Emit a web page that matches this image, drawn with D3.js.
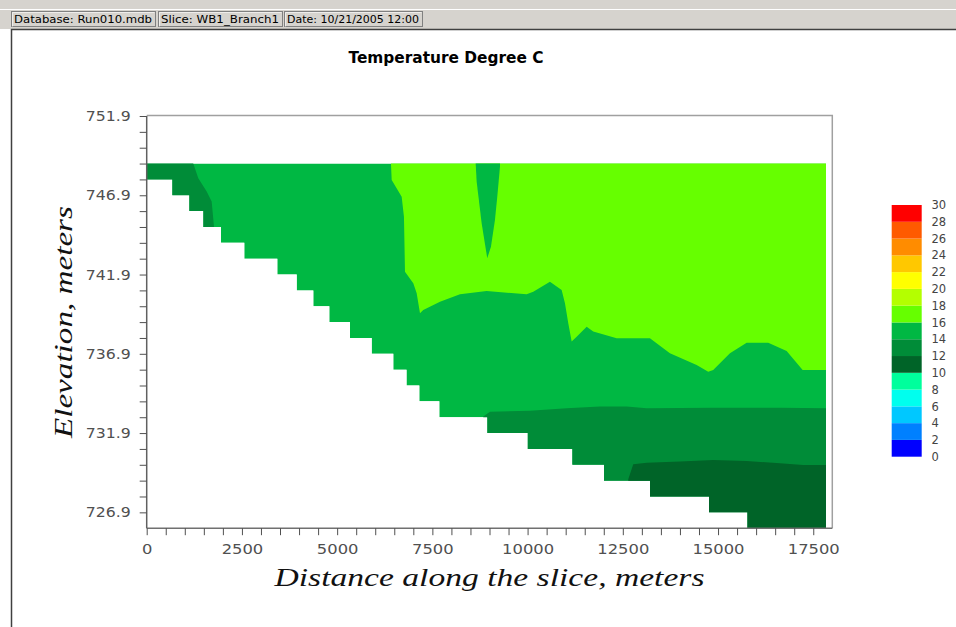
<!DOCTYPE html>
<html>
<head>
<meta charset="utf-8">
<script src="https://cdn.jsdelivr.net/npm/d3@7"></script>
<style>
  html, body { margin: 0; padding: 0; background: #fff; }
  svg { display: block; }
</style>
</head>
<body>
<svg id="chart" width="956" height="627"></svg>
<script>
// ---------------- DATA ----------------
const statusTexts = ["Database: Run010.mdb", "Slice: WB1_Branch1", "Date: 10/21/2005 12:00"];
const chartTitle = "Temperature Degree C";
const xTitle = "Distance along the slice, meters";
const yTitle = "Elevation, meters";

const xTickValues = d3.range(0, 17501, 500);
const xLabelValues = [0, 2500, 5000, 7500, 10000, 12500, 15000, 17500];
const yTickValues = d3.range(726.9, 752.0, 1).map(v => +v.toFixed(1));
const yLabelValues = [726.9, 731.9, 736.9, 741.9, 746.9, 751.9];

// legend: thresholds (bottom -> top) and band colours
const legendValues = [0, 2, 4, 6, 8, 10, 12, 14, 16, 18, 20, 22, 24, 26, 28, 30];
const legendColors = ["#0000ff", "#0080ff", "#00c8ff", "#00ffee", "#00ff9c",
                      "#006428", "#008c38", "#00b843", "#66ff00", "#b4ff00",
                      "#ffff00", "#ffc800", "#ff8c00", "#ff5a00", "#ff0000"];

// bathymetry: water surface and the stepped bottom of each segment
const surfaceElevation = 748.9;
const segmentStart  = [0, 672, 1118, 1486, 1951, 2562, 3429, 3938, 4374, 4794, 5337, 5907,
                       6474, 6821, 7157, 7682, 8942, 10003, 11174, 12006, 13214, 14763, 15773];
const segmentBottom = [747.9, 746.9, 745.9, 744.9, 743.9, 742.9, 741.9, 740.9, 739.9, 738.9, 737.9, 736.9,
                       735.9, 734.9, 733.9, 732.9, 731.9, 730.9, 729.9, 728.9, 727.9, 726.9, 725.9];
const waterEnd = 17834;

// isotherm boundaries [distance m, elevation m]
const iso16Boundary = [[6413, 748.9], [6432, 747.86], [6694, 746.81], [6754, 745.55], [6781, 742.08],
  [6999, 741.35], [7088, 740.72], [7175, 739.46], [7261, 739.67], [7700, 740.19], [8225, 740.66],
  [8925, 740.86], [9975, 740.66], [10149, 740.82], [10587, 741.45], [10894, 740.93], [10981, 740.09],
  [11068, 738.83], [11157, 737.67], [11288, 737.98], [11551, 738.61], [11724, 738.3], [12338, 737.88],
  [13212, 737.88], [13737, 736.93], [14438, 736.2], [14743, 735.77], [14874, 735.88], [15313, 736.93],
  [15751, 737.6], [16318, 737.6], [16801, 737.08], [17221, 735.88], [17834, 735.88]];
const iso16Tongue = [[8637, 748.9], [8663, 747.76], [8794, 745.13], [8941, 742.93], [9038, 743.66],
  [9143, 745.34], [9204, 746.81], [9275, 748.7], [9275, 748.9]];
const iso14Boundary = [[8836, 732.94], [9012, 733.25], [10062, 733.31], [11025, 733.47], [11899, 733.57],
  [12600, 733.57], [13125, 733.47], [14874, 733.5], [16625, 733.5], [17834, 733.47]];
const iso14Patch = [[1223, 748.9], [1355, 747.97], [1575, 747.13], [1706, 746.5], [1767, 744.92]];
const iso12Boundary = [[12643, 728.99], [12774, 729.93], [13126, 730.03], [14000, 730.1], [14874, 730.2],
  [15751, 730.14], [16625, 729.99], [17237, 729.89], [17834, 729.89]];

// ---------------- CHART ----------------
const svg = d3.select("#chart");
const W = 956, H = 627;

// status bar
svg.append("rect").attr("x", 0).attr("y", 0).attr("width", W).attr("height", 29).attr("fill", "#d6d3ce");
svg.append("line").attr("x1", 0).attr("x2", W).attr("y1", 9.5).attr("y2", 9.5).attr("stroke", "#ffffff");
const panels = [[11, 155], [158, 282], [284, 422]];
panels.forEach((p, i) => {
  const g = svg.append("g");
  g.append("rect").attr("x", p[0] + 0.5).attr("y", 11.5).attr("width", p[1] - p[0]).attr("height", 15)
    .attr("fill", "#d6d3ce").attr("stroke", "#808080");
  g.append("path").attr("d", `M${p[0] + 1.5},26.5V12.5H${p[1] - 0.5}`).attr("fill", "none").attr("stroke", "#ffffff").attr("opacity", 0.6);
  g.append("text").attr("x", p[0] + 3).attr("y", 23).attr("font-family", "DejaVu Sans, sans-serif")
    .attr("font-size", 10.5).attr("fill", "#000")
    .attr("textLength", p[1] - p[0] - 6).attr("lengthAdjust", "spacingAndGlyphs")
    .text(statusTexts[i]);
});
// canvas border
svg.append("path").attr("d", `M11.5,${H}V29.5H${W}`).attr("fill", "none").attr("stroke", "#404040").attr("stroke-width", 1.5);

// scales
const x = d3.scaleLinear().domain([0, 18000]).range([146.7, 832.3]);
const y = d3.scaleLinear().domain([725.9, 751.9]).range([528.2, 116]);
const line = d3.line().x(d => x(d[0])).y(d => y(d[1]));

// title
svg.append("text").attr("x", 446).attr("y", 63).attr("text-anchor", "middle")
  .attr("font-family", "DejaVu Sans, sans-serif").attr("font-weight", "bold").attr("font-size", 16)
  .attr("textLength", 195).attr("lengthAdjust", "spacingAndGlyphs").text(chartTitle);

// water mask
const waterPts = [[0, surfaceElevation], [waterEnd, surfaceElevation]];
for (let i = segmentStart.length - 1; i >= 0; i--) {
  const end = i === segmentStart.length - 1 ? waterEnd : segmentStart[i + 1];
  waterPts.push([end, segmentBottom[i]]);
  waterPts.push([segmentStart[i], segmentBottom[i]]);
}
svg.append("clipPath").attr("id", "water").append("path").attr("d", line(waterPts) + "Z");

const bandColor = v => legendColors[Math.floor(v / 2)];
const plot = svg.append("g").attr("clip-path", "url(#water)");
const topE = 750, botE = 725, rightX = 18000;

// base 14-16
plot.append("path").attr("d", line(waterPts) + "Z").attr("fill", bandColor(15));
// 16-18 region
plot.append("path").attr("d", line([[iso16Boundary[0][0], topE], ...iso16Boundary, [rightX, iso16Boundary[iso16Boundary.length - 1][1]], [rightX, topE]]) + "Z")
  .attr("fill", bandColor(17));
// 14-16 tongue within 16-18
plot.append("path").attr("d", line([[iso16Tongue[0][0], topE], ...iso16Tongue, [iso16Tongue[iso16Tongue.length - 1][0], topE]]) + "Z")
  .attr("fill", bandColor(15));
// 12-14 regions
plot.append("path").attr("d", line([...iso14Boundary, [rightX, iso14Boundary[iso14Boundary.length - 1][1]], [rightX, botE], [iso14Boundary[0][0], botE]]) + "Z")
  .attr("fill", bandColor(13));
plot.append("path").attr("d", line([[0, topE], [iso14Patch[0][0], topE], ...iso14Patch, [iso14Patch[iso14Patch.length - 1][0], 744], [0, 744]]) + "Z")
  .attr("fill", bandColor(13));
// 10-12 region
plot.append("path").attr("d", line([...iso12Boundary, [rightX, iso12Boundary[iso12Boundary.length - 1][1]], [rightX, botE], [iso12Boundary[0][0], botE]]) + "Z")
  .attr("fill", bandColor(11));

// frame (top & right)
svg.append("path").attr("d", `M${x(0)},${y(751.9) - 0.5}H${x(18000)}V${y(725.9)}`)
  .attr("fill", "none").attr("stroke", "#a0a0a0").attr("stroke-width", 1.5);

// axes
const tickFont = "DejaVu Sans, sans-serif";
const xAxis = svg.append("g").attr("transform", `translate(0,${y(725.9)})`)
  .call(d3.axisBottom(x).tickValues(xTickValues).tickSize(7).tickSizeOuter(0).tickPadding(9)
    .tickFormat(d => xLabelValues.includes(d) ? String(d) : ""));
xAxis.select(".domain").attr("stroke", "#707070").attr("stroke-width", 1.5)
  .attr("d", `M${x(0)},0H${x(18000)}`);
xAxis.selectAll(".tick line").attr("stroke", "#505050");
xAxis.selectAll(".tick text").attr("font-family", tickFont).attr("font-size", 14).attr("fill", "#505050")
  .each(function(d) {
    const s = xLabelValues.includes(d) ? String(d) : "";
    if (s) d3.select(this).attr("textLength", s.length * 10.4).attr("lengthAdjust", "spacingAndGlyphs");
  });

const yAxis = svg.append("g").attr("transform", `translate(${x(0)},0)`)
  .call(d3.axisLeft(y).tickValues(yTickValues).tickSize(7).tickSizeOuter(0).tickPadding(9)
    .tickFormat(d => yLabelValues.includes(d) ? d.toFixed(1) : ""));
yAxis.select(".domain").attr("stroke", "#606060").attr("stroke-width", 1.5)
  .attr("d", `M0,${y(725.9)}V${y(751.9)}`);
yAxis.selectAll(".tick line").attr("stroke", "#505050");
yAxis.selectAll(".tick text").attr("font-family", tickFont).attr("font-size", 14).attr("fill", "#505050")
  .each(function(d) {
    if (yLabelValues.includes(d)) d3.select(this).attr("textLength", 45).attr("lengthAdjust", "spacingAndGlyphs");
  });

// axis titles
svg.append("text").attr("x", (x(0) + x(18000)) / 2).attr("y", 586).attr("text-anchor", "middle")
  .attr("font-family", "Liberation Serif, serif").attr("font-style", "italic").attr("font-size", 26)
  .attr("fill", "#111").attr("textLength", 430).attr("lengthAdjust", "spacingAndGlyphs").text(xTitle);
svg.append("text").attr("transform", `translate(72,${(y(725.9) + y(751.9)) / 2}) rotate(-90)`)
  .attr("text-anchor", "middle")
  .attr("font-family", "Liberation Serif, serif").attr("font-style", "italic").attr("font-size", 26)
  .attr("fill", "#111").attr("textLength", 232).attr("lengthAdjust", "spacingAndGlyphs").text(yTitle);

// legend
const ly = d3.scaleLinear().domain([0, 30]).range([456.7, 205]);
const legend = svg.append("g");
legend.selectAll("rect").data(legendColors).join("rect")
  .attr("x", 891.7).attr("width", 30)
  .attr("y", (d, i) => ly(legendValues[i + 1]))
  .attr("height", (d, i) => ly(legendValues[i]) - ly(legendValues[i + 1]))
  .attr("fill", d => d);
legend.selectAll("text").data(legendValues).join("text")
  .attr("x", 931.5).attr("y", d => ly(d)).attr("dy", "0.36em")
  .attr("font-family", tickFont).attr("font-size", 11.5).attr("fill", "#444")
  .text(d => d);
</script>
</body>
</html>
